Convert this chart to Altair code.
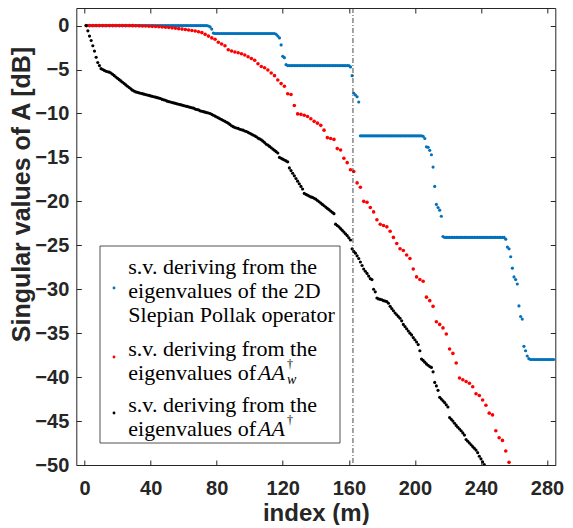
import altair as alt
import pandas as pd

# ---------------- data ----------------
x_ticks = [0, 40, 80, 120, 160, 200, 240, 280]
y_ticks = [0, -5, -10, -15, -20, -25, -30, -35, -40, -45, -50]
x_domain = [-5, 285]
y_domain = [-50, 2]

# blue: singular values from 2D Slepian-Pollak eigenvalues (one per index 1..284)
blue_index = list(range(1, 285))
blue_values = (
    [0.0] * 74
    + [-0.05, -0.15, -0.4, -0.85]
    + [-0.9] * 37
    + [-1.0, -1.2, -1.4, -2.2, -3.5, -3.65, -4.45]
    + [-4.55] * 38
    + [-4.7, -5.7, -7.7, -7.9, -8.1, -8.7]
    + [-12.55] * 38
    + [-12.6, -12.85, -13.8, -13.85, -14.2, -14.7, -16.1, -18.3, -20.35, -20.7, -21.0, -21.7]
    + [-24.0]
    + [-24.1] * 37
    + [-24.3, -25.2, -25.4, -26.3, -27.6, -28.6, -28.9, -29.4, -31.9, -33.1, -33.4, -36.5, -37.0, -37.6, -37.9]
    + [-38.0] * 15
)

# red: singular values from eigenvalues of A A^dagger_w (odd indices 1..257)
red_index = list(range(1, 258, 2))
red_values = [
    0.0, 0.0, 0.0, 0.0, 0.0, 0.0, 0.0, 0.0, 0.0, 0.0,
    0.0, 0.0, 0.0, 0.0, -0.01, -0.02, -0.03, -0.04, -0.05, -0.07,
    -0.09, -0.11, -0.13, -0.16, -0.19, -0.22, -0.26, -0.3, -0.35, -0.4,
    -0.45, -0.5, -0.56, -0.62, -0.7, -0.8, -1.0, -1.2, -1.4, -1.55,
    -1.9, -2.1, -2.3, -2.75, -2.9, -3.0, -3.1, -3.2, -3.35, -3.55,
    -3.75, -3.95, -4.35, -4.65, -4.8, -5.05, -5.4, -5.7, -6.2, -6.6,
    -6.9, -7.75, -7.85, -9.1, -10.05, -10.1, -10.2, -10.35, -10.6, -10.9,
    -11.1, -11.35, -11.9, -12.75, -12.85, -12.95, -14.0, -14.15, -15.1, -15.6,
    -16.4, -16.6, -17.9, -18.4, -20.0, -20.1, -20.7, -21.2, -22.1, -22.6,
    -22.75, -22.9, -23.4, -24.1, -24.8, -25.4, -25.6, -26.1, -26.5, -27.7,
    -28.6, -28.9, -29.1, -30.9, -31.3, -31.95, -33.7, -34.0, -34.4, -35.1,
    -36.8, -37.3, -38.4, -40.1, -40.3, -40.5, -40.7, -41.1, -41.9, -42.1,
    -42.6, -43.2, -44.1, -44.3, -46.1, -46.9, -47.2, -48.4, -49.7,
]

# black: singular values from eigenvalues of A A^dagger (index 1..242)
black_index = list(range(1, 243))
black_values = [
    0.0, -0.6, -1.2, -1.7, -2.3, -2.9, -3.6, -4.2, -4.55, -4.9,
    -5.0, -5.1, -5.2, -5.25, -5.3, -5.4, -5.55, -5.7, -5.85, -6.0,
    -6.15, -6.3, -6.45, -6.6, -6.75, -6.9, -7.05, -7.2, -7.35, -7.45,
    -7.55, -7.6, -7.65, -7.7, -7.75, -7.8, -7.85, -7.9, -7.95, -8.0,
    -8.05, -8.1, -8.15, -8.2, -8.25, -8.3, -8.4, -8.45, -8.5, -8.6,
    -8.65, -8.7, -8.75, -8.8, -8.85, -8.9, -8.95, -9.0, -9.05, -9.1,
    -9.15, -9.2, -9.25, -9.3, -9.35, -9.4, -9.5, -9.55, -9.6, -9.7,
    -9.75, -9.8, -9.85, -9.9, -9.95, -10.0, -10.1, -10.2, -10.3, -10.4,
    -10.5, -10.6, -10.7, -10.8, -10.9, -11.0, -11.1, -11.25, -11.4, -11.5,
    -11.6, -11.65, -11.7, -11.8, -11.85, -11.9, -12.0, -12.05, -12.15, -12.25,
    -12.35, -12.45, -12.55, -12.65, -12.8, -12.9, -13.0, -13.15, -13.3, -13.5,
    -13.6, -13.75, -13.9, -14.05, -14.2, -14.35, -14.5, -15.0, -15.1, -15.2,
    -15.3, -15.4, -15.5, -16.2, -16.5, -16.8, -17.1, -17.4, -17.7, -18.0,
    -18.3, -18.6, -19.1, -19.2, -19.3, -19.4, -19.5, -19.55, -19.65, -19.75,
    -19.9, -20.05, -20.2, -20.35, -20.5, -20.65, -20.8, -20.95, -21.1, -21.25,
    -21.4, -22.6, -22.75, -22.9, -23.1, -23.3, -23.5, -23.7, -23.9, -24.15,
    -24.4, -25.4, -25.7, -25.9, -26.2, -26.5, -26.9, -27.3, -27.7, -27.95,
    -28.2, -28.5, -28.8, -28.9, -30.0, -30.3, -31.0, -31.1, -31.15, -31.2,
    -31.3, -31.35, -31.4, -31.6, -31.95, -32.2, -32.45, -32.7, -32.9, -33.1,
    -33.3, -33.6, -34.0, -34.25, -34.5, -34.75, -35.0, -35.2, -35.5, -35.75,
    -36.0, -36.3, -37.0, -37.95, -38.1, -38.3, -38.5, -38.65, -38.8, -38.9,
    -39.4, -40.6, -41.0, -41.5, -42.3, -42.5, -42.7, -42.9, -43.15, -43.4,
    -44.6, -44.8, -45.0, -45.25, -45.5, -45.7, -45.9, -46.1, -46.35, -46.6,
    -47.1, -47.3, -47.5, -47.7, -47.9, -48.1, -48.3, -48.6, -49.0, -49.3,
    -49.65, -49.95,
]

threshold_index = [162.5]

legend_lines = [
    ["s.v. deriving from the", "eigenvalues of the 2D", "Slepian Pollak operator"],
    ["s.v. deriving from the", "eigenvalues of"],
    ["s.v. deriving from the", "eigenvalues of"],
]
math_base = "AA"
math_sup = "\u2020"
math_sub = "w"

assert len(blue_index) == len(blue_values)
assert len(red_index) == len(red_values)
assert len(black_index) == len(black_values)

# ---------------- styles / layout ----------------
BLUE = "#0072BD"
RED = "#FF0000"
BLACK = "#000000"
AXIS_COLOR = "#262626"
W, H = 479, 457
PAD_LEFT = 68.3
PLOT_LEFT_PAGE, PLOT_TOP_PAGE = 8 + PAD_LEFT, 8.0


def rx(px):
    return px - PLOT_LEFT_PAGE


def ry(py):
    return py - PLOT_TOP_PAGE


x_scale = alt.Scale(domain=x_domain, nice=False, zero=False)
y_scale = alt.Scale(domain=y_domain, nice=False, zero=False)

common = dict(
    grid=False, domain=False, tickSize=5, tickColor=AXIS_COLOR, tickWidth=1,
    offset=-5, labelFont="Liberation Sans", labelFontWeight="bold",
    labelFontSize=20, labelColor=AXIS_COLOR, labelFlush=False,
    labelOverlap=False, titleFont="Liberation Sans", titleFontWeight="bold",
    titleColor=AXIS_COLOR,
)

axis_bottom = alt.Axis(orient="bottom", values=x_ticks, labelPadding=13,
                       title="index (m)", titleY=60, titleBaseline="alphabetic",
                       titleFontSize=24, **common)
axis_left = alt.Axis(orient="left", values=y_ticks, labelPadding=7.5,
                     title="Singular values of A [dB]", titleX=-60, titleY=186,
                     titleAngle=270, titleAlign="center", titleBaseline="middle",
                     titleFontSize=25, **common)
axis_top = alt.Axis(orient="top", values=x_ticks, labels=False, title=None, **common)
axis_right = alt.Axis(orient="right", values=y_ticks, labels=False, title=None, **common)

blue_df = pd.DataFrame({"idx": blue_index, "val": blue_values})
red_df = pd.DataFrame({"idx": red_index, "val": red_values})
black_df = pd.DataFrame({"idx": black_index, "val": black_values})
vline_df = pd.DataFrame({"x": threshold_index})

blue_layer = alt.Chart(blue_df).mark_circle(size=10, color=BLUE, opacity=1, clip=True).encode(
    x=alt.X("idx:Q", scale=x_scale, axis=axis_bottom),
    y=alt.Y("val:Q", scale=y_scale, axis=axis_left),
)
red_layer = alt.Chart(red_df).mark_circle(size=13, color=RED, opacity=1, clip=True).encode(
    x=alt.X("idx:Q", scale=x_scale, axis=axis_top),
    y=alt.Y("val:Q", scale=y_scale, axis=axis_right),
)
black_layer = alt.Chart(black_df).mark_circle(size=10, color=BLACK, opacity=1, clip=True).encode(
    x=alt.X("idx:Q", scale=x_scale, axis=None),
    y=alt.Y("val:Q", scale=y_scale, axis=None),
)
vline_layer = alt.Chart(vline_df).mark_rule(color="#333333", strokeWidth=0.9,
                                            strokeDash=[5, 2, 1, 2]).encode(
    x=alt.X("x:Q", scale=x_scale, axis=None),
)

one = pd.DataFrame({"a": [0]})
layers = [blue_layer, red_layer, black_layer, vline_layer]

# legend box
layers.append(
    alt.Chart(one).mark_rect(fill="white", stroke=AXIS_COLOR, strokeWidth=0.8).encode(
        x=alt.value(rx(100)), x2=alt.value(rx(340)),
        y=alt.value(ry(246)), y2=alt.value(ry(443)),
    )
)

marker_pos = [(114, 288), (114, 357), (114, 413)]
marker_col = [BLUE, RED, BLACK]
line_y = [[267, 291, 315], [349, 373], [405, 429]]
TEXT_X = 128.3
SERIF = "Liberation Serif"
FS = 22

for (mx, my), col in zip(marker_pos, marker_col):
    layers.append(
        alt.Chart(one).mark_circle(size=8, color=col, opacity=1).encode(
            x=alt.value(rx(mx)), y=alt.value(ry(my))
        )
    )

for lines, ys in zip(legend_lines, line_y):
    for t, yy in zip(lines, ys):
        layers.append(
            alt.Chart(pd.DataFrame({"t": [t]})).mark_text(
                align="left", baseline="middle", font=SERIF, fontSize=FS, color="black"
            ).encode(x=alt.value(rx(TEXT_X)), y=alt.value(ry(yy)), text="t:N")
        )

# math parts: AA^dagger_w and AA^dagger
for k, with_sub in ((1, True), (2, False)):
    yy = line_y[k][1]
    layers.append(
        alt.Chart(pd.DataFrame({"t": [math_base]})).mark_text(
            align="left", baseline="middle", font=SERIF, fontSize=FS,
            fontStyle="italic", color="black"
        ).encode(x=alt.value(rx(258)), y=alt.value(ry(yy)), text="t:N")
    )
    layers.append(
        alt.Chart(pd.DataFrame({"t": [math_sup]})).mark_text(
            align="left", baseline="middle", font=SERIF, fontSize=12, color="black"
        ).encode(x=alt.value(rx(287)), y=alt.value(ry(yy - 9)), text="t:N")
    )
    if with_sub:
        layers.append(
            alt.Chart(pd.DataFrame({"t": [math_sub]})).mark_text(
                align="left", baseline="middle", font=SERIF, fontSize=14,
                fontStyle="italic", color="black"
            ).encode(x=alt.value(rx(287)), y=alt.value(ry(yy + 7)), text="t:N")
        )

chart = alt.layer(*layers).properties(
    width=W, height=H,
    autosize=alt.AutoSizeParams(type="none"),
    padding={"left": PAD_LEFT, "top": 0, "right": 557 - PAD_LEFT - W, "bottom": 60},
).configure_view(stroke=AXIS_COLOR, strokeWidth=1)

chart.save("out.html", embed_options={"renderer": "svg", "actions": False})
